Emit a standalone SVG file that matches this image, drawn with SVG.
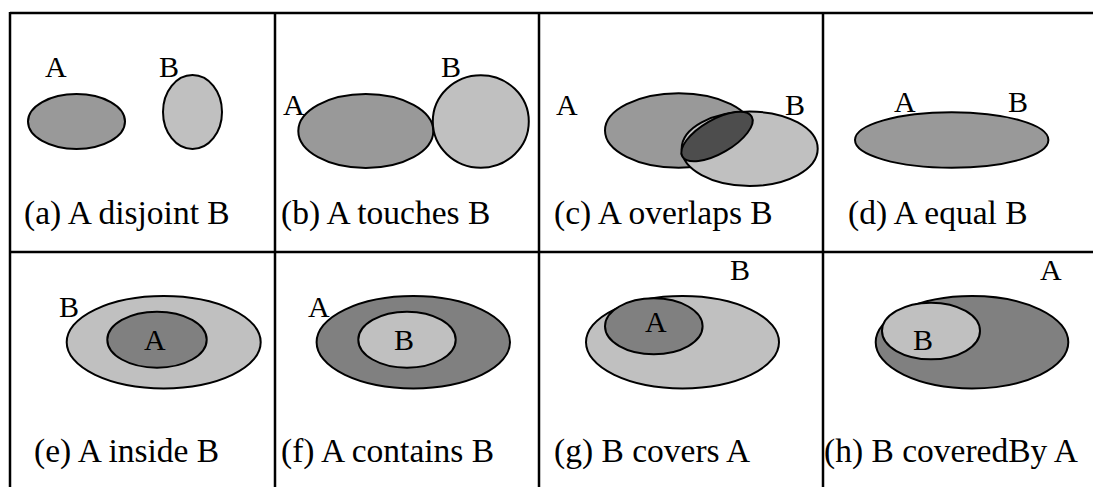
<svg xmlns="http://www.w3.org/2000/svg" width="1093" height="487" viewBox="0 0 1093 487">
<style>
.e{stroke:#000;stroke-width:2}
.m{fill:#999999}
.l{fill:#c0c0c0}
.d{fill:#808080}
.x{fill:#4d4d4d}
.g{stroke:#000;stroke-width:2.5;fill:none}
text{font-family:"Liberation Serif","Times New Roman",serif;fill:#000}
.cap{font-size:33.5px}
.lab{font-size:30px}
</style>
<rect width="1093" height="487" fill="#fff"/>
<g id="grid">
<line class="g" x1="10" y1="13" x2="1093" y2="13"/>
<line class="g" x1="10" y1="252" x2="1093" y2="252"/>
<line class="g" x1="10" y1="12" x2="10" y2="487"/>
<line class="g" x1="275" y1="12" x2="275" y2="487"/>
<line class="g" x1="539" y1="12" x2="539" y2="487"/>
<line class="g" x1="823" y1="12" x2="823" y2="487"/>
</g>
<g id="panel-a">
<ellipse class="e m" cx="76.5" cy="121.5" rx="48.5" ry="27.5"/>
<ellipse class="e l" cx="192.5" cy="112" rx="29.5" ry="37"/>
<text class="lab" x="45" y="77">A</text>
<text class="lab" x="159" y="77">B</text>
<text class="cap" x="24" y="224">(a) A disjoint B</text>
</g>
<g id="panel-b">
<ellipse class="e m" cx="365.8" cy="131" rx="67.5" ry="37"/>
<ellipse class="e l" cx="480.8" cy="121.5" rx="48" ry="46.2"/>
<text class="lab" x="283" y="115">A</text>
<text class="lab" x="441" y="77">B</text>
<text class="cap" x="281" y="224">(b) A touches B</text>
</g>
<g id="panel-c">
<ellipse class="e m" cx="678.7" cy="130.5" rx="73.7" ry="37.2"/>
<ellipse class="e l" cx="749.7" cy="148.8" rx="68" ry="37.2"/>
<ellipse class="e x" cx="717" cy="136.5" rx="40" ry="17" transform="rotate(-30 717 136.5)"/>
<text class="lab" x="556" y="115">A</text>
<text class="lab" x="785" y="115">B</text>
<text class="cap" x="554" y="224">(c) A overlaps B</text>
</g>
<g id="panel-d">
<ellipse class="e m" cx="951.7" cy="140" rx="96.7" ry="27.7"/>
<text class="lab" x="894" y="112">A</text>
<text class="lab" x="1008" y="112">B</text>
<text class="cap" x="848" y="224">(d) A equal B</text>
</g>
<g id="panel-e">
<ellipse class="e l" cx="163.7" cy="342.2" rx="97" ry="46.2"/>
<ellipse class="e d" cx="157" cy="339.7" rx="49.7" ry="28"/>
<text class="lab" x="59" y="317">B</text>
<text class="lab" x="144" y="350">A</text>
<text class="cap" x="34" y="462">(e) A inside B</text>
</g>
<g id="panel-f">
<ellipse class="e d" cx="413.3" cy="342.2" rx="96.7" ry="46.2"/>
<ellipse class="e l" cx="407" cy="339.7" rx="48.7" ry="28"/>
<text class="lab" x="308" y="317">A</text>
<text class="lab" x="394" y="350">B</text>
<text class="cap" x="281" y="462">(f) A contains B</text>
</g>
<g id="panel-g">
<ellipse class="e l" cx="682.5" cy="342.2" rx="96.5" ry="46.2"/>
<ellipse class="e d" cx="653.8" cy="326.3" rx="48.8" ry="28"/>
<text class="lab" x="730" y="280">B</text>
<text class="lab" x="645" y="332">A</text>
<text class="cap" x="554" y="462">(g) B covers A</text>
</g>
<g id="panel-h">
<ellipse class="e d" cx="972" cy="342.2" rx="96.3" ry="46.2"/>
<ellipse class="e l" cx="931" cy="331" rx="49" ry="28.3"/>
<text class="lab" x="1040" y="280">A</text>
<text class="lab" x="913" y="350">B</text>
<text class="cap" x="824" y="462">(h) B coveredBy A</text>
</g>
</svg>
